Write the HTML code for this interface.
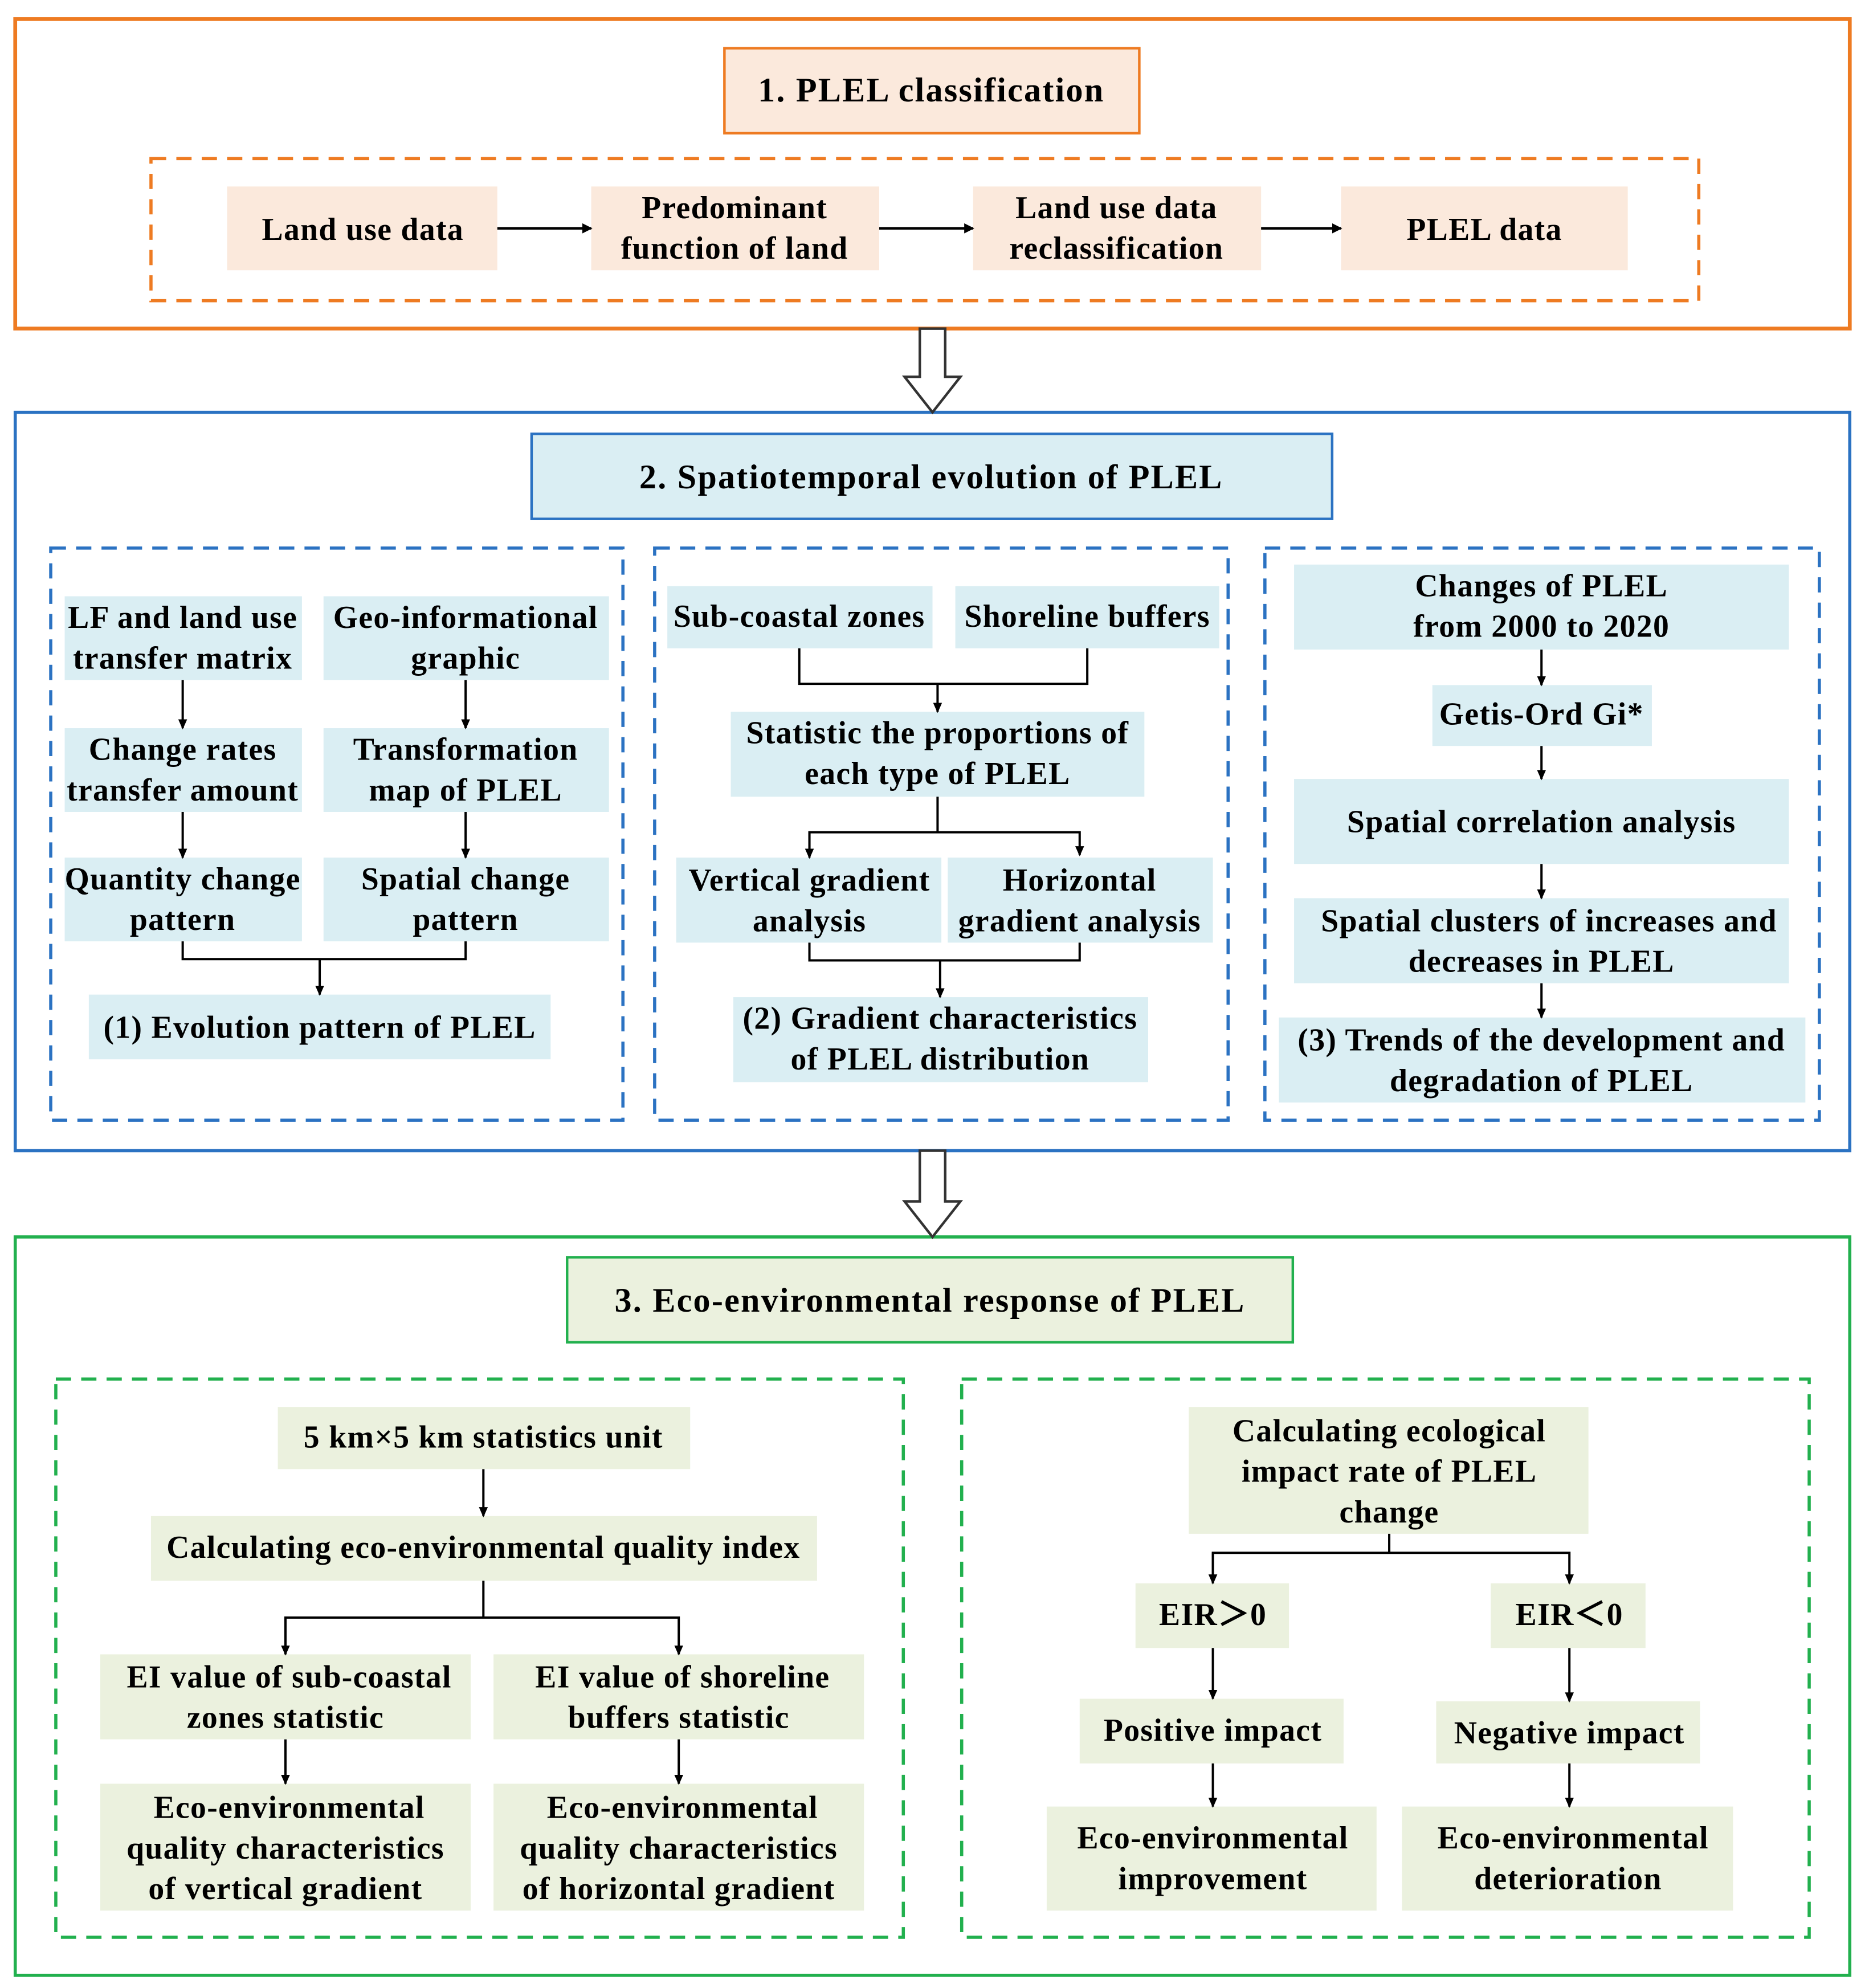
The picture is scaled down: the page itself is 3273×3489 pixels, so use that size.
<!DOCTYPE html>
<html><head><meta charset="utf-8"><style>html,body{margin:0;padding:0;background:#fff}svg{display:block}</style></head>
<body>
<svg width="3273" height="3489" viewBox="0 0 1470 1567" xmlns="http://www.w3.org/2000/svg" font-family="Liberation Serif, serif" font-weight="bold" font-size="25" letter-spacing="0.6" text-anchor="middle">
<defs>
<marker id="a" markerWidth="8" markerHeight="8" refX="7" refY="4" orient="auto" markerUnits="userSpaceOnUse"><path d="M0,0 L8,4 L0,8 z" fill="#000"/></marker>
<marker id="s" markerWidth="8" markerHeight="8" refX="7" refY="4" orient="auto" markerUnits="userSpaceOnUse"><path d="M0,0.5 L8,4 L0,7.5 z" fill="#000"/></marker>
</defs>
<g fill="none">
<rect x="12" y="15" width="1446" height="244" stroke="#EE7B22" stroke-width="3"/>
<rect x="119" y="125" width="1220" height="112" stroke="#EE7B22" stroke-width="2.5" stroke-dasharray="12,8"/>
<rect x="12" y="325" width="1446" height="582" stroke="#2B72C2" stroke-width="2.5"/>
<rect x="40" y="432" width="451" height="451" stroke="#2B72C2" stroke-width="2.5" stroke-dasharray="12,8"/>
<rect x="516" y="432" width="452" height="451" stroke="#2B72C2" stroke-width="2.5" stroke-dasharray="12,8"/>
<rect x="997" y="432" width="437" height="451" stroke="#2B72C2" stroke-width="2.5" stroke-dasharray="12,8"/>
<rect x="12" y="975" width="1446" height="582" stroke="#22B04E" stroke-width="2.5"/>
<rect x="44" y="1087" width="668" height="440" stroke="#22B04E" stroke-width="2.5" stroke-dasharray="12,8"/>
<rect x="758" y="1087" width="668" height="440" stroke="#22B04E" stroke-width="2.5" stroke-dasharray="12,8"/>
</g>
<path d="M725,259 h20 v38 h12 l-22,28 l-22,-28 h12 z" fill="#fff" stroke="#333" stroke-width="2"/>
<path d="M725,907 h20 v40 h12 l-22,28 l-22,-28 h12 z" fill="#fff" stroke="#333" stroke-width="2"/>
<rect x="571" y="38" width="327" height="67" fill="#FBE9DC" stroke="#EE7B22" stroke-width="2"/>
<text x="734" y="80" font-size="27" letter-spacing="1">1. PLEL classification</text>
<g fill="#FBE9DC">
<rect x="179" y="147" width="213" height="66"/><rect x="466" y="147" width="227" height="66"/>
<rect x="767" y="147" width="227" height="66"/><rect x="1057" y="147" width="226" height="66"/>
</g>
<text x="286" y="189">Land use data</text>
<text x="579" y="172">Predominant</text><text x="579" y="204">function of  land</text>
<text x="880" y="172">Land use data</text><text x="880" y="204">reclassification</text>
<text x="1170" y="189">PLEL data</text>
<g stroke="#000" stroke-width="2" marker-end="url(#a)">
<line x1="392" y1="180" x2="466" y2="180"/><line x1="693" y1="180" x2="767" y2="180"/><line x1="994" y1="180" x2="1057" y2="180"/>
</g>
<rect x="419" y="342" width="631" height="67" fill="#DAEEF3" stroke="#2B72C2" stroke-width="2"/>
<text x="734" y="385" font-size="27" letter-spacing="1">2. Spatiotemporal evolution of PLEL</text>
<g fill="#DAEEF3">
<rect x="51" y="470" width="187" height="66"/><rect x="255" y="470" width="225" height="66"/>
<rect x="51" y="574" width="187" height="66"/><rect x="255" y="574" width="225" height="66"/>
<rect x="51" y="676" width="187" height="66"/><rect x="255" y="676" width="225" height="66"/>
<rect x="70" y="784" width="364" height="51"/>
<rect x="526" y="462" width="209" height="49"/><rect x="753" y="462" width="208" height="49"/>
<rect x="576" y="561" width="326" height="67"/>
<rect x="533" y="676" width="209" height="67"/><rect x="747" y="676" width="209" height="67"/>
<rect x="578" y="786" width="327" height="67"/>
<rect x="1020" y="445" width="390" height="67"/>
<rect x="1129" y="540" width="173" height="48"/>
<rect x="1020" y="614" width="390" height="67"/>
<rect x="1020" y="708" width="390" height="67"/>
<rect x="1008" y="802" width="415" height="67"/>
</g>
<text x="144" y="495">LF and land use</text><text x="144" y="527">transfer matrix</text>
<text x="367" y="495">Geo-informational</text><text x="367" y="527">graphic</text>
<text x="144" y="599">Change rates</text><text x="144" y="631">transfer amount</text>
<text x="367" y="599">Transformation</text><text x="367" y="631">map of PLEL</text>
<text x="144" y="701">Quantity change</text><text x="144" y="733">pattern</text>
<text x="367" y="701">Spatial change</text><text x="367" y="733">pattern</text>
<text x="252" y="818">(1) Evolution pattern of PLEL</text>
<text x="630" y="494">Sub-coastal zones</text><text x="857" y="494">Shoreline buffers</text>
<text x="739" y="586">Statistic  the proportions of</text><text x="739" y="618">each type of PLEL</text>
<text x="638" y="702">Vertical gradient</text><text x="638" y="734">analysis</text>
<text x="851" y="702">Horizontal</text><text x="851" y="734">gradient analysis</text>
<text x="741" y="811">(2) Gradient characteristics</text><text x="741" y="843">of PLEL distribution</text>
<text x="1215" y="470">Changes of PLEL</text><text x="1215" y="502">from 2000 to 2020</text>
<text x="1215" y="571">Getis-Ord Gi*</text>
<text x="1215" y="656">Spatial correlation analysis</text>
<text x="1221" y="734">Spatial clusters of increases and</text><text x="1215" y="766">decreases in PLEL</text>
<text x="1215" y="828">(3) Trends of the development and</text><text x="1215" y="860">degradation of PLEL</text>
<g stroke="#000" stroke-width="1.8" fill="none">
<line x1="144" y1="536" x2="144" y2="574" marker-end="url(#s)"/><line x1="367" y1="536" x2="367" y2="574" marker-end="url(#s)"/>
<line x1="144" y1="640" x2="144" y2="676" marker-end="url(#s)"/><line x1="367" y1="640" x2="367" y2="676" marker-end="url(#s)"/>
<path d="M144,742 V756 H367 V742"/><line x1="252" y1="756" x2="252" y2="784" marker-end="url(#s)"/>
<path d="M630,511 V539 H857 V511"/><line x1="739" y1="539" x2="739" y2="561" marker-end="url(#s)"/>
<line x1="739" y1="628" x2="739" y2="656"/><path d="M638,674 V656 H851 V674" marker-end="url(#s)"/><line x1="638" y1="656" x2="638" y2="676" marker-end="url(#s)"/>
<path d="M638,743 V757 H851 V743"/><line x1="741" y1="757" x2="741" y2="786" marker-end="url(#s)"/>
<line x1="1215" y1="512" x2="1215" y2="540" marker-end="url(#s)"/>
<line x1="1215" y1="588" x2="1215" y2="614" marker-end="url(#s)"/>
<line x1="1215" y1="681" x2="1215" y2="708" marker-end="url(#s)"/>
<line x1="1215" y1="775" x2="1215" y2="802" marker-end="url(#s)"/>
</g>
<rect x="447" y="991" width="572" height="67" fill="#EBF1DE" stroke="#22B04E" stroke-width="2"/>
<text x="733" y="1034" font-size="27" letter-spacing="1">3. Eco-environmental response of PLEL</text>
<g fill="#EBF1DE">
<rect x="219" y="1109" width="325" height="49"/>
<rect x="119" y="1195" width="525" height="51"/>
<rect x="79" y="1304" width="292" height="67"/><rect x="389" y="1304" width="292" height="67"/>
<rect x="79" y="1406" width="292" height="100"/><rect x="389" y="1406" width="292" height="100"/>
<rect x="937" y="1109" width="315" height="100"/>
<rect x="895" y="1248" width="121" height="51"/><rect x="1175" y="1248" width="122" height="51"/>
<rect x="851" y="1339" width="208" height="51"/><rect x="1132" y="1341" width="208" height="49"/>
<rect x="825" y="1424" width="260" height="82"/><rect x="1105" y="1424" width="261" height="82"/>
</g>
<text x="381" y="1141">5 km×5 km statistics unit</text>
<text x="381" y="1228">Calculating eco-environmental quality index</text>
<text x="228" y="1330">EI value of sub-coastal</text><text x="225" y="1362">zones statistic</text>
<text x="538" y="1330">EI value of shoreline</text><text x="535" y="1362">buffers statistic</text>
<text x="228" y="1433">Eco-environmental</text><text x="225" y="1465">quality characteristics</text><text x="225" y="1497">of vertical gradient</text>
<text x="538" y="1433">Eco-environmental</text><text x="535" y="1465">quality characteristics</text><text x="535" y="1497">of horizontal gradient</text>
<text x="1095" y="1136">Calculating ecological</text><text x="1095" y="1168">impact rate of PLEL</text><text x="1095" y="1200">change</text>
<text x="956" y="1281">EIR＞0</text><text x="1237" y="1281">EIR＜0</text>
<text x="956" y="1372">Positive  impact</text><text x="1237" y="1374">Negative impact</text>
<text x="956" y="1457">Eco-environmental</text><text x="956" y="1489">improvement</text>
<text x="1240" y="1457">Eco-environmental</text><text x="1236" y="1489">deterioration</text>
<g stroke="#000" stroke-width="1.8" fill="none">
<line x1="381" y1="1158" x2="381" y2="1195" marker-end="url(#s)"/>
<line x1="381" y1="1246" x2="381" y2="1275"/><path d="M225,1304 V1275 H535 V1304" marker-end="url(#s)"/><line x1="225" y1="1275" x2="225" y2="1304" marker-end="url(#s)"/>
<line x1="225" y1="1371" x2="225" y2="1406" marker-end="url(#s)"/><line x1="535" y1="1371" x2="535" y2="1406" marker-end="url(#s)"/>
<line x1="1095" y1="1209" x2="1095" y2="1224"/><path d="M956,1248 V1224 H1237 V1248" marker-end="url(#s)"/><line x1="956" y1="1224" x2="956" y2="1248" marker-end="url(#s)"/>
<line x1="956" y1="1299" x2="956" y2="1339" marker-end="url(#s)"/><line x1="1237" y1="1299" x2="1237" y2="1341" marker-end="url(#s)"/>
<line x1="956" y1="1390" x2="956" y2="1424" marker-end="url(#s)"/><line x1="1237" y1="1390" x2="1237" y2="1424" marker-end="url(#s)"/>
</g>
</svg>
</body></html>
